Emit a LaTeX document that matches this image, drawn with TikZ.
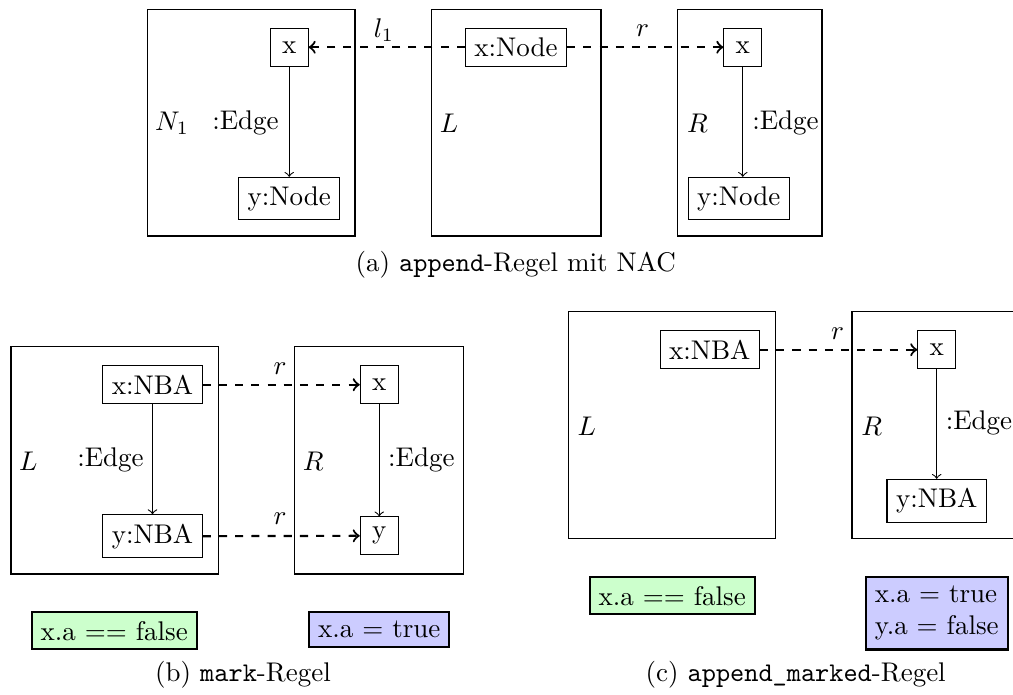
\documentclass[tikz,border=0pt]{standalone}
\definecolor{precond}{HTML}{CCFFCC}
\definecolor{postcond}{HTML}{CCCCFF}
\tikzset{
  obj/.style={draw, thin, minimum size=14pt, inner sep=3.33pt},
  frame/.style={draw, thin},
  morph/.style={->, thick, dashed},
  edgearrow/.style={->, thin},
  cond/.style={draw, thick, inner sep=3.33pt},
  lbl/.style={inner sep=0pt}
}
\begin{document}
\begin{tikzpicture}[x=0.3704pt, y=-0.3704pt]
\useasboundingbox (0,0) rectangle (1013,695);
\clip (0,0) rectangle (1013,695);

% ---------- (a) append rule with NAC ----------
\draw[frame] (147.3,9.3) rectangle (355,236);
\draw[frame] (431.7,9.3) rectangle (601,236);
\draw[frame] (677.7,9.3) rectangle (822,236);

\node[obj] (n1x) at (289.2,47.2) {x};
\node[obj] (n1y) at (289.3,198.5) {y:Node};
\node[obj] (ax)  at (516,47.2) {x:Node};
\node[obj] (arx) at (742.8,47.2) {x};
\node[obj] (ary) at (738.7,198.5) {y:Node};

\draw[edgearrow] (n1x) -- (n1x |- n1y.north);
\draw[edgearrow] (arx) -- (arx |- ary.north);
\draw[morph] (ax.west) -- (n1x.east);
\draw[morph] (ax.east) -- (arx.west);

\node[lbl] (an1) at (172,123) {$N_1$};
\node[lbl] (ae1) at (245.5,123) {:Edge};
\node[lbl] (al)  at (449,123) {$L$};
\node[lbl] (ar)  at (697.5,123) {$R$};
\node[lbl] (ae2) at (785.5,123) {:Edge};
\node[lbl] (al1) at (384,30) {$l_1$};
\node[lbl] (amr) at (642.5,31) {$r$};

\node (capa) at (515.7,265) {(a) \texttt{append}-Regel mit NAC};

% ---------- (b) mark rule ----------
\draw[frame] (11,346.7) rectangle (218.3,574);
\draw[frame] (294.3,346.7) rectangle (463.3,574);

\node[obj] (bx)  at (152.5,384.7) {x:NBA};
\node[obj] (by)  at (152.5,536.2) {y:NBA};
\node[obj] (brx) at (379.2,384.7) {x};
\node[obj] (bry) at (379.2,535.8) {y};

\draw[edgearrow] (bx) -- (by);
\draw[edgearrow] (brx) -- (bry);
\draw[morph] (bx.east) -- (brx.west);
\draw[morph] (by.east) -- (bry.west);

\node[lbl] (bl)  at (28.3,461.7) {$L$};
\node[lbl] (be1) at (110.5,460) {:Edge};
\node[lbl] (br)  at (313.3,461.7) {$R$};
\node[lbl] (be2) at (421.3,460) {:Edge};
\node[lbl] (bm1) at (280,368.3) {$r$};
\node[lbl] (bm2) at (280,518.3) {$r$};

\node[cond, fill=precond]  (bpre)  at (114.3,630.7) {x.a == false};
\node[cond, fill=postcond] (bpost) at (379.2,629.5) {x.a = true};

\node (capb) at (243,675) {(b) \texttt{mark}-Regel};

% ---------- (c) append_marked rule ----------
\draw[frame] (568.3,311.7) rectangle (775.7,538.3);
\draw[frame] (852,311.7) rectangle (1022,538.3);

\node[obj] (cx)  at (709.8,349.7) {x:NBA};
\node[obj] (crx) at (936.7,349.7) {x};
\node[obj] (cry) at (936.7,500.8) {y:NBA};

\draw[edgearrow] (crx) -- (cry);
\draw[morph] (cx.east) -- (crx.west);

\node[lbl] (cl)  at (586.7,426.7) {$L$};
\node[lbl] (cr)  at (871.7,426.7) {$R$};
\node[lbl] (ce)  at (979,423.3) {:Edge};
\node[lbl] (cm)  at (837.5,334) {$r$};

\node[cond, fill=precond]  (cpre)  at (672.2,595.7) {x.a == false};
\node[cond, fill=postcond, align=left] (cpost) at (936.7,613.2) {x.a = true\\y.a = false};

\node (capc) at (795.7,675) {(c) \texttt{append\_marked}-Regel};
\end{tikzpicture}
\end{document}
